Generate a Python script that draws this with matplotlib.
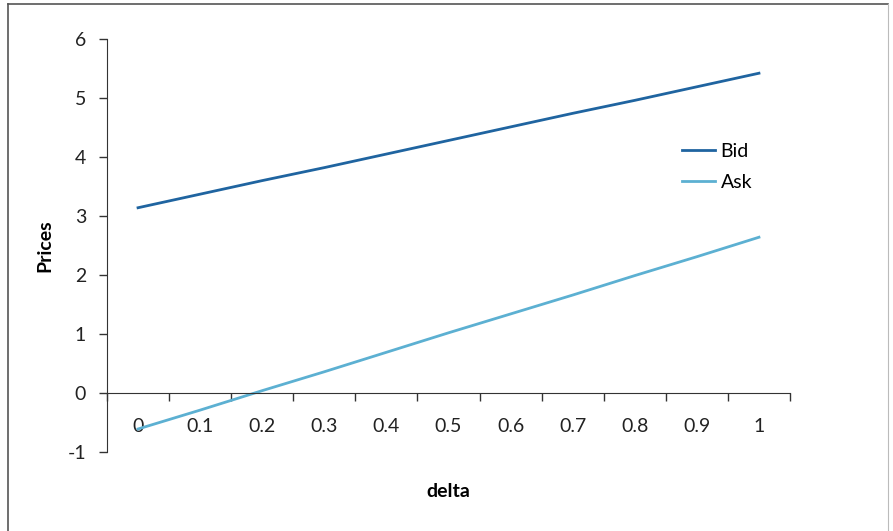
import matplotlib
matplotlib.use("Agg")
import matplotlib.pyplot as plt
from matplotlib.lines import Line2D

categories = ["0", "0.1", "0.2", "0.3", "0.4", "0.5", "0.6", "0.7", "0.8", "0.9", "1"]
bid = [3.14, 3.37, 3.60, 3.82, 4.05, 4.28, 4.51, 4.74, 4.96, 5.19, 5.42]
ask = [-0.61, -0.29, 0.04, 0.36, 0.69, 1.02, 1.34, 1.66, 1.99, 2.31, 2.64]
yticks = [-1, 0, 1, 2, 3, 4, 5, 6]

W, H = 893, 531
fig = plt.figure(figsize=(W / 100, H / 100), dpi=100)
plt.rcParams['font.family'] = ['Lato', 'DejaVu Sans']

# outer frame
fig.add_artist(Line2D([8 / W, 8 / W], [0, 1 - 4 / H], color="#555555", lw=1.2))
fig.add_artist(Line2D([8 / W, 888 / W], [1 - 4 / H, 1 - 4 / H], color="#555555", lw=1.2))
fig.add_artist(Line2D([888 / W, 888 / W], [0, 1 - 4 / H], color="#bbbbbb", lw=0.8))

ax = fig.add_axes([107 / W, 1 - 452 / H, (790 - 107) / W, (452 - 39) / H])
x = list(range(len(categories)))
ax.plot(x, bid, color="#1f64a0", lw=2, label="Bid")
ax.plot(x, ask, color="#5cb0d2", lw=2, label="Ask")

ax.set_xlim(-0.5, len(categories) - 0.5)
ax.set_ylim(-1, 6)
ax.set_yticks(yticks)
ax.set_yticklabels([str(v) for v in yticks])
ax.tick_params(axis="y", direction="out", length=6, width=1, color="#333333", pad=9,
               labelsize=14, labelcolor="#222222")

ax.set_xticks(x)
ax.set_xticklabels(categories)
ax.set_xticks([i - 0.5 for i in range(len(categories) + 1)], minor=True)
ax.tick_params(axis="x", which="minor", direction="out", length=6, width=1, color="#333333")
ax.tick_params(axis="x", which="major", length=0, pad=18, labelsize=14, labelcolor="#222222")

ax.spines["top"].set_visible(False)
ax.spines["right"].set_visible(False)
ax.spines["bottom"].set_position(("data", 0))
ax.spines["bottom"].set_color("#333333")
ax.spines["left"].set_color("#333333")

ax.set_ylabel("Prices", fontsize=14, fontweight="bold")
ax.yaxis.set_label_coords(-0.078, 0.5)
ax.text(0.5, -0.095, "delta", transform=ax.transAxes, ha="center", va="center",
        fontsize=14, fontweight="bold")

ax.legend(loc="upper left", bbox_to_anchor=(0.83, 0.768), frameon=False, fontsize=14,
          handlelength=1.7, handletextpad=0.3, labelspacing=0.75, borderaxespad=0)

fig.savefig("out.png", dpi=100)
